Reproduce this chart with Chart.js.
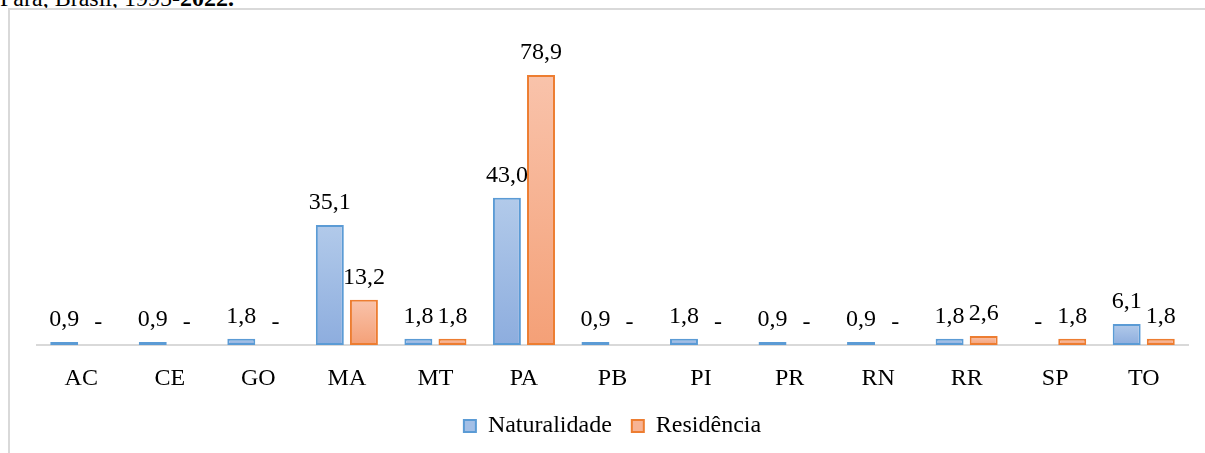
<!DOCTYPE html>
<html>
<head>
<meta charset="utf-8">
<script src="https://cdn.jsdelivr.net/npm/chart.js@4.4.0/dist/chart.umd.min.js"></script>
<style>
    body { margin: 0; background: #fff; overflow: hidden; }
    #title { position: absolute; left: 0; top: -15px; font: 24px "Liberation Serif", "Times New Roman", serif; color: #000; white-space: nowrap; }
    #frame { position: absolute; left: 8px; top: 8px; width: 1300px; height: 500px; border-left: 2px solid #d9d9d9; border-top: 2px solid #d9d9d9; }
    #wrap { position: absolute; left: 0; top: 0; width: 1205px; height: 453px; }
</style>
</head>
<body>
<div id="title">Pará, Brasil, 1995-<b>2022.</b></div>
<div id="frame"></div>
<div id="wrap"><canvas id="chart"></canvas></div>
<script>
const states = ["AC", "CE", "GO", "MA", "MT", "PA", "PB", "PI", "PR", "RN", "RR", "SP", "TO"];
const naturalidade = [0.9, 0.9, 1.8, 35.1, 1.8, 43.0, 0.9, 1.8, 0.9, 0.9, 1.8, 0, 6.1];
const residencia = [0, 0, 0, 13.2, 1.8, 78.9, 0, 0, 0, 0, 2.6, 1.8, 1.8];

const serif = "'Liberation Serif', 'Times New Roman', serif";

// each bar gets its own gradient, light at the top (excel style fill)
function barFill(top, bottom) {
    return function(context) {
        const chart = context.chart;
        const y = chart.scales.y;
        if (!chart.chartArea || !y || context.raw == null) return bottom;
        const y0 = y.getPixelForValue(context.raw);
        const y1 = y.getPixelForValue(0);
        if (y1 - y0 < 1) return bottom;
        const g = chart.ctx.createLinearGradient(0, y0, 0, y1);
        g.addColorStop(0, top);
        g.addColorStop(1, bottom);
        return g;
    };
}

const valueLabels = {
    id: "valueLabels",
    afterDatasetsDraw(chart) {
        const ctx = chart.ctx;
        ctx.save();
        ctx.font = "24px " + serif;
        ctx.fillStyle = "#000";
        ctx.textAlign = "center";
        ctx.textBaseline = "alphabetic";
        chart.data.datasets.forEach((ds, i) => {
            const meta = chart.getDatasetMeta(i);
            meta.data.forEach((bar, j) => {
                const v = ds.data[j];
                const txt = v === 0 ? "-" : v.toFixed(1).replace(".", ",");
                ctx.fillText(txt, bar.x, bar.y - 16);
            });
        });
        ctx.restore();
    }
};

new Chart(document.getElementById("chart"), {
    type: "bar",
    data: {
        labels: states,
        datasets: [
            {
                label: "Naturalidade",
                data: naturalidade,
                backgroundColor: barFill("#b2caea", "#8dadde"),
                borderColor: "#5b9bd5",
                borderWidth: 2,
                borderSkipped: false
            },
            {
                label: "Residência",
                data: residencia,
                backgroundColor: barFill("#f9c3ab", "#f4a077"),
                borderColor: "#ed7d31",
                borderWidth: 2,
                borderSkipped: false
            }
        ]
    },
    options: {
        responsive: true,
        maintainAspectRatio: false,
        animation: false,
        categoryPercentage: 0.77,
        barPercentage: 0.82,
        layout: { padding: { left: 37, right: 17, top: 37, bottom: 5 } },
        scales: {
            x: {
                grid: { display: false, drawTicks: false },
                border: { display: true, color: "#d9d9d9", width: 2 },
                ticks: { color: "#000", font: { family: serif, size: 24 }, padding: 19 },
                afterFit(scale) { scale.height = 49; }
            },
            y: {
                display: false,
                min: 0,
                max: 90
            }
        },
        plugins: {
            legend: {
                position: "bottom",
                labels: {
                    color: "#000",
                    font: { family: serif, size: 24 },
                    boxWidth: 12,
                    boxHeight: 12,
                    padding: 20,
                    generateLabels(chart) {
                        const items = Chart.defaults.plugins.legend.labels.generateLabels(chart);
                        const fills = ["#a3bfe6", "#f7b394"];
                        items.forEach((it, i) => { it.fillStyle = fills[i]; });
                        return items;
                    }
                }
            },
            tooltip: { enabled: false }
        }
    },
    plugins: [valueLabels]
});
</script>
</body>
</html>
